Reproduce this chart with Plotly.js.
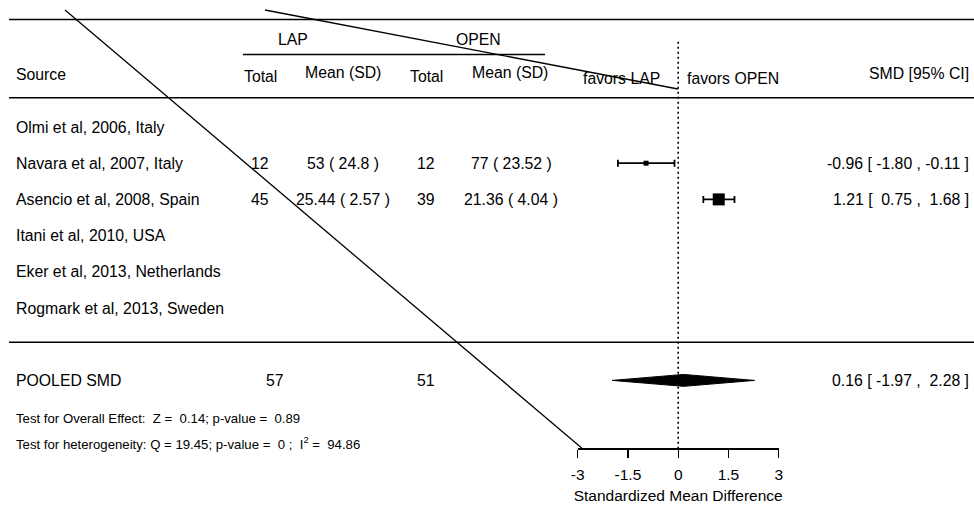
<!DOCTYPE html>
<html>
<head>
<meta charset="utf-8">
<script src="https://cdn.plot.ly/plotly-3.0.1.min.js"></script>
<style>html,body{margin:0;padding:0;background:#fff;}#chart{width:974px;height:506px;}</style>
</head>
<body>
<div id="chart"></div>
<script>
// ---- data ----
const sources = ["Olmi et al, 2006, Italy", "Navara et al, 2007, Italy", "Asencio et al, 2008, Spain",
                 "Itani et al, 2010, USA", "Eker et al, 2013, Netherlands", "Rogmark et al, 2013, Sweden"];
const lapTotal  = [null, 12, 45, null, null, null];
const lapMean   = [null, 53, 25.44, null, null, null];
const lapSD     = [null, 24.8, 2.57, null, null, null];
const openTotal = [null, 12, 39, null, null, null];
const openMean  = [null, 77, 21.36, null, null, null];
const openSD    = [null, 23.52, 4.04, null, null, null];
const smd       = [null, -0.96, 1.21, null, null, null];
const ciLow     = [null, -1.80, 0.75, null, null, null];
const ciHigh    = [null, -0.11, 1.68, null, null, null];
const pooledLapTotal = 57;
const pooledOpenTotal = 51;
const pooledSMD = 0.16;
const pooledLow = -1.97;
const pooledHigh = 2.28;
const overallZ = 0.14, overallP = 0.89;
const hetQ = 19.45, hetP = 0, hetI2 = 94.86;
const tickVals = [-3, -1.5, 0, 1.5, 3];
const tickText = ["-3", "-1.5", "0", "1.5", "3"];
const rowIndex = [1, 2, 3, 4, 5, 6];
const pooledRow = 8;

// ---- helpers ----
const W = 974, H = 506;
const px = x => x / W;
const py = y => 1 - y / H;
const NB = "\u00a0";
const fmt2 = v => v.toFixed(2);
const pad = v => (v < 0 ? "" : NB) + fmt2(v);
const ciText = (e, l, h) => fmt2(e) + NB + "[" + NB + pad(l) + NB + "," + NB + pad(h) + NB + "]";
const msd = (m, s) => m + NB + "(" + NB + s + NB + ")";

const FONT = "Liberation Sans, Arial, Helvetica, sans-serif";
const fMain = {family: FONT, size: 15.8, color: "#000"};
const fSmall = {family: FONT, size: 13.2, color: "#000"};

const ann = [];
function txt(text, x, y, anchor, font, yref) {
  ann.push({text: text, x: px(x), xref: "paper", y: y, yref: yref || "y",
            xanchor: anchor, yanchor: "middle", showarrow: false, borderpad: 0, borderwidth: 0,
            font: font || fMain});
}

// header
txt("LAP", 293, py(39), "center", fMain, "paper");
txt("OPEN", 478, py(40), "center", fMain, "paper");
txt("Source", 16, py(74), "left", fMain, "paper");
txt("Total", 260, py(76), "center", fMain, "paper");
txt("Mean (SD)", 343, py(72.5), "center", fMain, "paper");
txt("Total", 426, py(76), "center", fMain, "paper");
txt("Mean (SD)", 510, py(72.5), "center", fMain, "paper");
txt("favors LAP", 621, py(78), "center", fMain, "paper");
txt("favors OPEN", 687, py(78), "left", fMain, "paper");
txt("SMD [95% CI]", 969, py(73), "right", fMain, "paper");

// study rows
sources.forEach((s, i) => {
  const r = rowIndex[i];
  txt(s, 16, r, "left");
  if (lapTotal[i] !== null) txt(String(lapTotal[i]), 260, r, "center");
  if (lapMean[i] !== null) txt(msd(lapMean[i], lapSD[i]), 343, r, "center");
  if (openTotal[i] !== null) txt(String(openTotal[i]), 426, r, "center");
  if (openMean[i] !== null) txt(msd(openMean[i], openSD[i]), 511, r, "center");
  if (smd[i] !== null) txt(ciText(smd[i], ciLow[i], ciHigh[i]), 969, r, "right");
});

// pooled row
txt("POOLED SMD", 16, pooledRow, "left");
txt(String(pooledLapTotal), 275, pooledRow, "center");
txt(String(pooledOpenTotal), 426, pooledRow, "center");
txt(ciText(pooledSMD, pooledLow, pooledHigh), 969, pooledRow, "right");

// tests
txt("Test for Overall Effect:" + NB + " Z =" + NB + " " + fmt2(overallZ) + "; p-value =" + NB + " " + fmt2(overallP),
    16, py(418.3), "left", fSmall, "paper");
txt("Test for heterogeneity: Q = " + fmt2(hetQ) + "; p-value =" + NB + " " + hetP + NB + "; " + NB + "I<sup>2</sup>" + NB + "=" + NB + " " + fmt2(hetI2),
    16, py(443.3), "left", fSmall, "paper");

// traces
const studyTrace = {
  type: "scatter", mode: "markers",
  x: smd, y: rowIndex,
  marker: {symbol: "square", size: [0, 5, 12, 0, 0, 0], color: "#000", opacity: 1, line: {width: 0}},
  error_x: {type: "data", symmetric: false,
            array: smd.map((v, i) => v === null ? null : ciHigh[i] - v),
            arrayminus: smd.map((v, i) => v === null ? null : v - ciLow[i]),
            color: "#000", thickness: 1.8, width: 3.5},
  hoverinfo: "skip", showlegend: false, cliponaxis: false
};
const dh = 0.165;
const diamond = {
  type: "scatter", mode: "lines",
  x: [pooledLow, pooledSMD, pooledHigh, pooledSMD, pooledLow],
  y: [pooledRow, pooledRow - dh, pooledRow, pooledRow + dh, pooledRow],
  fill: "toself", fillcolor: "#000", line: {color: "#000", width: 1},
  hoverinfo: "skip", showlegend: false
};

const LW = 1.6;
const shapes = [
  {type: "line", xref: "paper", yref: "paper", x0: px(9), x1: 1, y0: py(19.5), y1: py(19.5), line: {color: "#000", width: LW}},
  {type: "line", xref: "paper", yref: "paper", x0: px(243), x1: px(545), y0: py(54.5), y1: py(54.5), line: {color: "#000", width: LW}},
  {type: "line", xref: "paper", yref: "paper", x0: px(9), x1: 1, y0: py(97.7), y1: py(97.7), line: {color: "#000", width: LW}},
  {type: "line", xref: "paper", yref: "paper", x0: px(9), x1: 1, y0: py(342.3), y1: py(342.3), line: {color: "#000", width: LW}},
  {type: "line", xref: "x", yref: "paper", x0: 0, x1: 0, y0: py(41.7), y1: py(448.3), line: {color: "#000", width: 1.6, dash: "2px,3px"}},
  {type: "line", xref: "paper", yref: "paper", x0: px(65), x1: px(581.7), y0: py(10), y1: py(448), line: {color: "#000", width: 1.3}},
  {type: "line", xref: "paper", yref: "paper", x0: px(265), x1: px(678), y0: py(10), y1: py(89), line: {color: "#000", width: 1.3}}
];

const layout = {
  width: W, height: H,
  margin: {l: 0, r: 0, t: 0, b: 0, pad: 0},
  paper_bgcolor: "#fff", plot_bgcolor: "rgba(0,0,0,0)",
  showlegend: false,
  xaxis: {
    domain: [px(577.7), px(778.7)], range: [-3, 3], anchor: "free", position: py(448.3),
    showline: true, linecolor: "#000", linewidth: 1.4, mirror: false,
    ticks: "outside", ticklen: 8, tickwidth: 1.4, tickcolor: "#000",
    tickmode: "array", tickvals: tickVals, ticktext: tickText, ticklabelstandoff: 4,
    tickfont: {family: FONT, size: 15.5, color: "#000"},
    showgrid: false, zeroline: false, fixedrange: true,
    title: {text: "Standardized Mean Difference", font: {family: FONT, size: 15.5, color: "#000"}, standoff: 8}
  },
  yaxis: {
    domain: [0, 1], range: [1 + (H - 127) / 36.2, 1 - 127 / 36.2],
    visible: false, showgrid: false, zeroline: false, anchor: "free", position: 0, fixedrange: true
  },
  shapes: shapes,
  annotations: ann
};

Plotly.newPlot("chart", [diamond, studyTrace], layout, {displayModeBar: false, staticPlot: true});
</script>
</body>
</html>
